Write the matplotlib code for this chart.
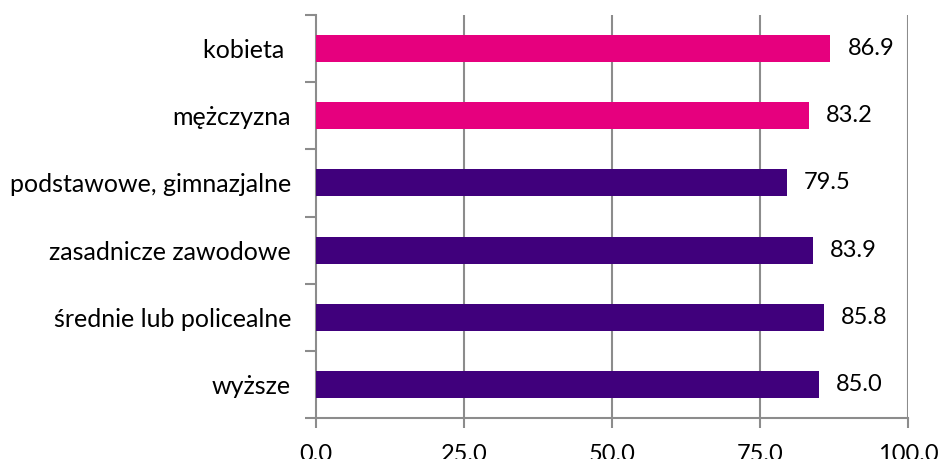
import matplotlib.pyplot as plt
from matplotlib.ticker import FixedLocator

# dane
categories = ["kobieta ", "mężczyzna", "podstawowe, gimnazjalne",
              "zasadnicze zawodowe", "średnie lub policealne", "wyższe"]
values = [86.9, 83.2, 79.5, 83.9, 85.8, 85.0]
groups = ["plec", "plec", "wyksztalcenie", "wyksztalcenie", "wyksztalcenie", "wyksztalcenie"]
x_ticks = [0, 25, 50, 75, 100]

colors = {"plec": "#E6007E", "wyksztalcenie": "#40007C"}
grid_col = "#8C8C8C"

plt.rcParams["font.family"] = ["Lato", "DejaVu Sans"]

fig = plt.figure(figsize=(9.4, 4.59), dpi=100)
ax = fig.add_axes([316 / 940, 1 - 418 / 459, 592 / 940, 403 / 459])

n = len(categories)
ypos = [n - 1 - i for i in range(n)]
bars = ax.barh(ypos, values, height=0.4,
               color=[colors[g] for g in groups], zorder=3)

for b, v in zip(bars, values):
    ax.text(b.get_width() + 2.9, b.get_y() + b.get_height() / 2, f"{v:.1f}",
            va="center", ha="left", fontsize=17, color="black")

ax.set_xlim(0, 100)
ax.set_ylim(-0.5, n - 0.5)
ax.set_xticks(x_ticks)
ax.set_xticklabels([f"{t:.1f}" for t in x_ticks], fontsize=17)
ax.set_yticks(ypos)
ax.set_yticklabels(categories, fontsize=18)
ax.yaxis.set_minor_locator(FixedLocator([k - 0.5 for k in range(n + 1)]))

ax.tick_params(axis="y", which="major", length=0, pad=18)
ax.tick_params(axis="y", which="minor", length=8, width=1.5, color=grid_col)
ax.tick_params(axis="x", which="major", length=7, width=1.5, color=grid_col, pad=12)

for x in x_ticks[1:]:
    ax.axvline(x, color=grid_col, lw=1.5, zorder=1)

for s in ["top", "right"]:
    ax.spines[s].set_visible(False)
for s in ["left", "bottom"]:
    ax.spines[s].set_color(grid_col)
    ax.spines[s].set_linewidth(1.5)

fig.savefig("out.png", dpi=100)
